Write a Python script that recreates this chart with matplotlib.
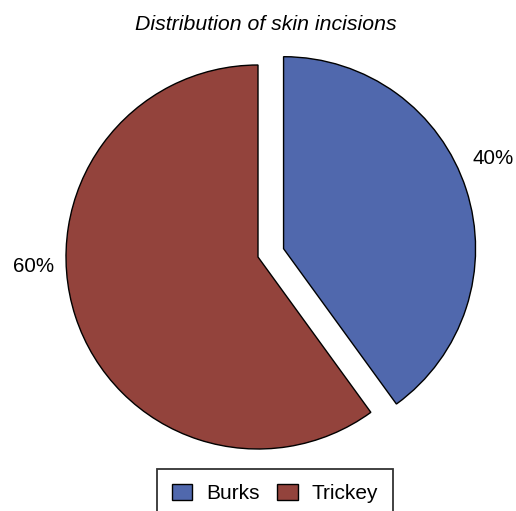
import matplotlib
matplotlib.use("Agg")
import matplotlib.pyplot as plt

plt.rcParams['font.family'] = ['Liberation Sans', 'DejaVu Sans']

# Data
categories = ["Burks", "Trickey"]
shares = [40, 60]
colors = ["#5068AD", "#93433C"]
explode = [0.14, 0.0]

W, H = 516, 511
fig = plt.figure(figsize=(W / 100, H / 100), dpi=100)

# Pie axes: centre at (258, 257) px from top-left, radius 192 px
cx, cy, r = 258, 257, 192
ax = fig.add_axes([(cx - r) / W, (H - cy - r) / H, 2 * r / W, 2 * r / H])

wedges, _ = ax.pie(
    shares,
    colors=colors,
    explode=explode,
    startangle=90,
    counterclock=False,
    radius=1.0,
    wedgeprops=dict(edgecolor="black", linewidth=1.0, clip_on=False),
)
ax.set_xlim(-1, 1)
ax.set_ylim(-1, 1)
ax.set_aspect("equal")
ax.axis("off")

# Percentage labels
label_pos = [(1.224, 0.512), (-1.167, -0.052)]
for v, (x, y) in zip(shares, label_pos):
    ax.text(x, y, f"{v:.0f}%", ha="center", va="center", fontsize=14.8,
            color="black", clip_on=False)

fig.text(266 / W, 1 - 25 / H, "Distribution of skin incisions",
         ha="center", va="center", fontsize=15.3, style="italic")

leg = fig.legend(
    wedges, categories,
    loc="upper left",
    bbox_to_anchor=(157 / W, 1 - 469 / H),
    ncol=2,
    fontsize=15,
    frameon=True,
    fancybox=False,
    edgecolor="black",
    handlelength=1.0,
    handleheight=0.8,
    handletextpad=0.65,
    columnspacing=0.85,
    borderpad=0.7,
    borderaxespad=0.0,
)
leg.get_frame().set_linewidth(1.3)

fig.savefig("out.png", dpi=100)
